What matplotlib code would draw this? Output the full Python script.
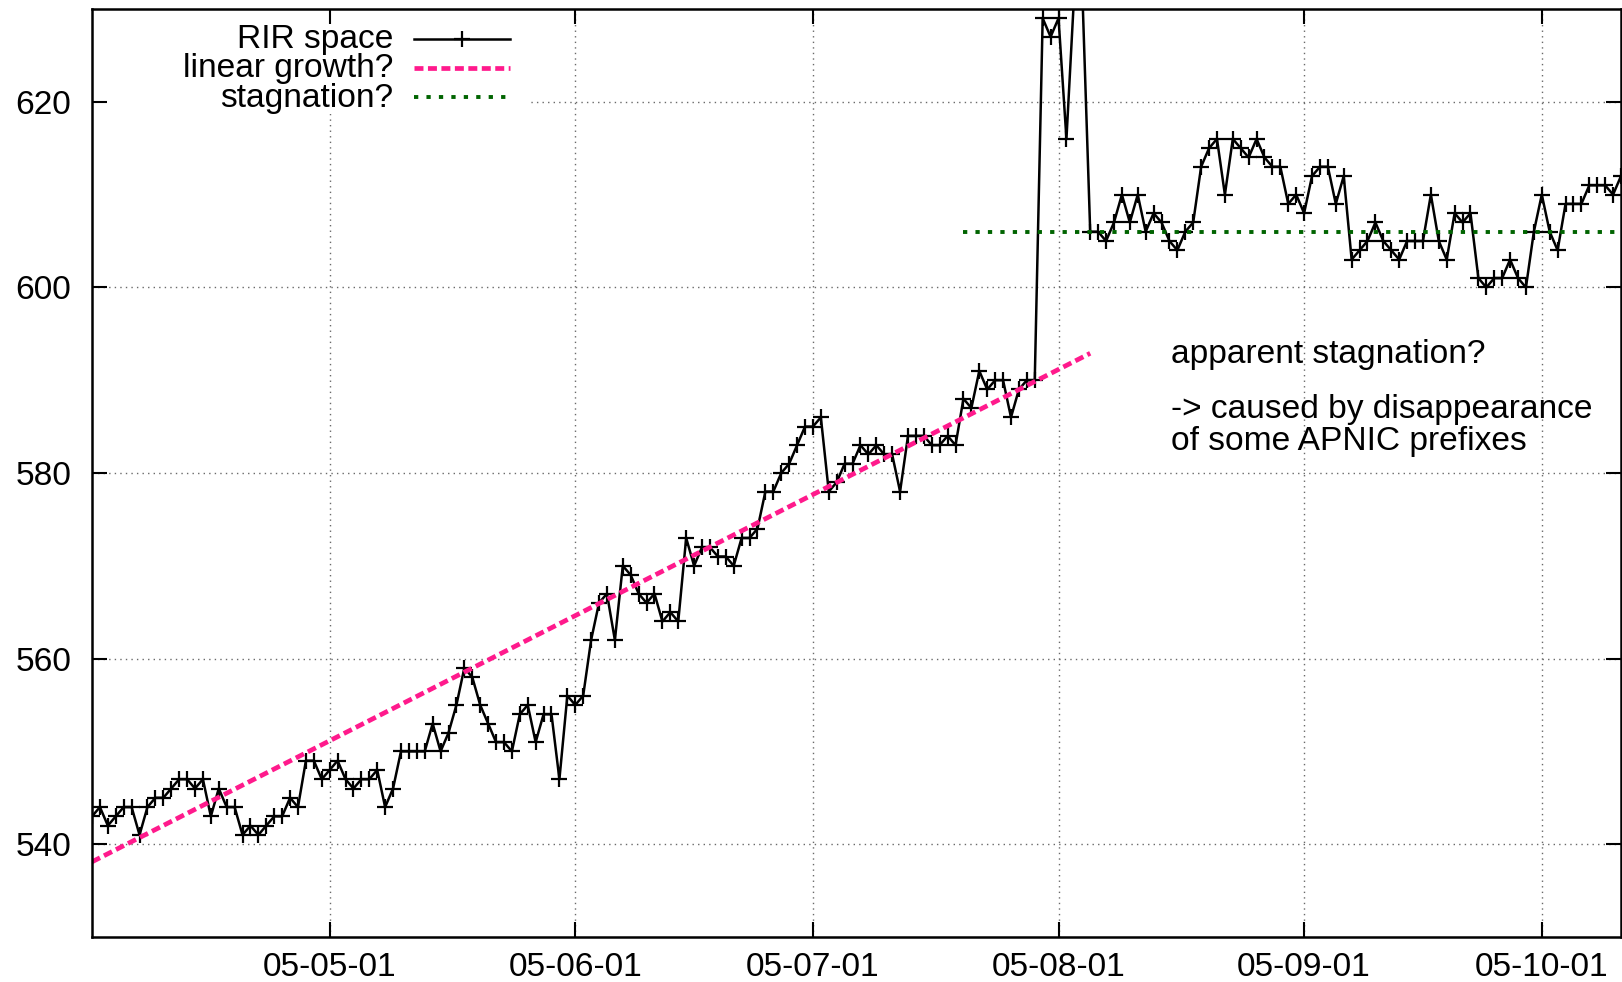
import numpy as np
import pandas as pd
import matplotlib
matplotlib.use("Agg")
import matplotlib.pyplot as plt
import matplotlib.dates as mdates
from matplotlib.patches import Rectangle
from matplotlib.lines import Line2D

plt.rcParams['font.family'] = ['Liberation Sans', 'DejaVu Sans']

# ---------------- data ----------------
start_date = "2005-04-01"
rir_space = [
    543, 544, 542, 543, 544, 544, 541, 544, 545, 545,
    546, 547, 547, 546, 547, 543, 546, 544, 544, 541,
    542, 541, 542, 543, 543, 545, 544, 549, 549, 547,
    548, 549, 547, 546, 547, 547, 548, 544, 546, 550,
    550, 550, 550, 553, 550, 552, 555, 559, 558, 555,
    553, 551, 551, 550, 554, 555, 551, 554, 554, 547,
    556, 555, 556, 562, 566, 567, 562, 570, 569, 567,
    566, 567, 564, 565, 564, 573, 570, 572, 572, 571,
    571, 570, 573, 573, 574, 578, 578, 580, 581, 583,
    585, 585, 586, 578, 579, 581, 581, 583, 582, 583,
    582, 582, 578, 584, 584, 584, 583, 583, 584, 583,
    588, 587, 591, 589, 590, 590, 586, 589, 590, 590,
    629, 627, 629, 616, 632, 632, 606, 606, 605, 607,
    610, 607, 610, 606, 608, 607, 605, 604, 606, 607,
    613, 615, 616, 610, 616, 615, 614, 616, 614, 613,
    613, 609, 610, 608, 612, 613, 613, 609, 612, 603,
    604, 605, 607, 605, 604, 603, 605, 605, 605, 610,
    605, 603, 608, 607, 608, 601, 600, 601, 601, 603,
    601, 600, 606, 610, 606, 604, 609, 609, 609, 611,
    611, 611, 610, 612,
]
dates = pd.date_range(start_date, periods=len(rir_space), freq="D")

linear_dates = ["2005-04-01", "2005-08-05"]
linear_values = [538.1, 592.9]

stag_dates = ["2005-07-20", "2005-10-11"]
stag_values = [606, 606]

xtick_dates = ["2005-05-01", "2005-06-01", "2005-07-01",
               "2005-08-01", "2005-09-01", "2005-10-01"]
ytick_values = [540, 560, 580, 600, 620]
y_limits = (530, 630)

legend_labels = ["RIR space", "linear growth?", "stagnation?"]
note_lines = ["apparent stagnation?",
              "-> caused by disappearance",
              "of some APNIC prefixes"]
note_date = "2005-08-15 06:00"
note_y = [591.9, 585.9, 582.5]

# ---------------- styles ----------------
FS = 24.1
PINK = '#ff1a8c'
GREEN = '#006400'
DATA_KW = dict(color='black', lw=1.8, marker='+', ms=11.5, mew=1.6)
PINK_KW = dict(color=PINK, lw=3.4, dashes=(1.9, 0.95), dash_capstyle='butt')
GREEN_KW = dict(color=GREEN, lw=2.8, dashes=(1.1, 2.1), dash_capstyle='butt')
GRID_KW = dict(color='#6a6a6a', lw=1.0, linestyle=(0, (1, 3)), zorder=0.5)

fig = plt.figure(figsize=(16.22, 9.82), dpi=100)
ax = fig.add_axes([92 / 1622, 45 / 982, 1529 / 1622, 928 / 982])

xt = pd.to_datetime(xtick_dates)

# grid (manual, below everything)
for v in ytick_values:
    ax.axhline(v, **GRID_KW)
for d in xt:
    ax.axvline(d, **GRID_KW)

# opaque key box
ax.add_patch(Rectangle((0, 0.887), 0.285, 0.113, transform=ax.transAxes,
                       facecolor='white', edgecolor='none', zorder=1))

ax.plot(dates, rir_space, zorder=3, **DATA_KW)
ax.plot(pd.to_datetime(linear_dates), linear_values, zorder=4, **PINK_KW)
ax.plot(pd.to_datetime(stag_dates), stag_values, zorder=5, **GREEN_KW)

ax.set_xlim(dates[0], dates[-1])
ax.set_ylim(*y_limits)
ax.set_xticks(xt)
ax.xaxis.set_major_formatter(mdates.DateFormatter('%y-%m-%d'))
ax.set_yticks(ytick_values)
ax.set_axisbelow(False)

ax.tick_params(axis='both', which='both', direction='in', length=10.5,
               width=1.5, top=True, right=True, labelsize=FS, colors='black')
ax.tick_params(axis='x', pad=11)
ax.tick_params(axis='y', pad=15)
for s in ax.spines.values():
    s.set_linewidth(1.8)
    s.set_zorder(6)

# ---------------- key ----------------
def fx(px):
    return (px - 92) / 1529

def fy(py):
    return (937 - py) / 928

base_y = [48, 77.5, 106.5]
line_y = [38.5, 68, 97]
for lab, by in zip(legend_labels, base_y):
    ax.text(fx(393), fy(by), lab, transform=ax.transAxes, ha='right',
            va='baseline', fontsize=FS, zorder=7)
ax.add_line(Line2D([fx(414), fx(510)], [fy(line_y[0])] * 2, transform=ax.transAxes,
                   color='black', lw=1.8, zorder=7))
ax.add_line(Line2D([fx(462)], [fy(line_y[0])], transform=ax.transAxes,
                   color='black', marker='+', ms=11.5, mew=1.6, ls='none', zorder=7))
ax.add_line(Line2D([fx(414), fx(510)], [fy(line_y[1])] * 2, transform=ax.transAxes,
                   zorder=7, **PINK_KW))
ax.add_line(Line2D([fx(414), fx(508)], [fy(line_y[2])] * 2, transform=ax.transAxes,
                   zorder=7, **GREEN_KW))

# ---------------- annotation ----------------
for txt, yv in zip(note_lines, note_y):
    ax.text(pd.Timestamp(note_date), yv, txt, ha='left', va='baseline',
            fontsize=FS, zorder=7)

fig.savefig("out.png", dpi=100)
